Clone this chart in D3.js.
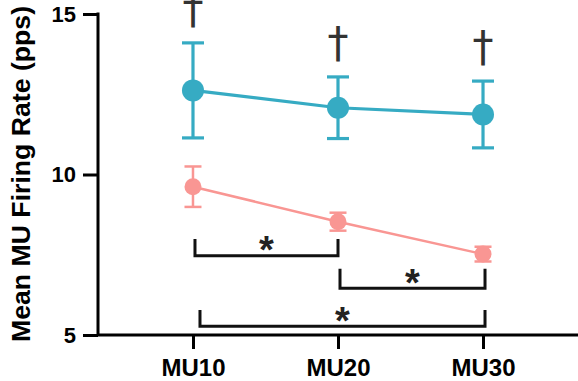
<!DOCTYPE html>
<html>
<head>
<meta charset="utf-8">
<script src="https://cdn.jsdelivr.net/npm/d3@7"></script>
<style>
  body { margin: 0; background: #fff; }
  svg { display: block; font-family: Arial, "Liberation Sans", sans-serif; }
</style>
</head>
<body>
<div id="chart"></div>
<script>
// Motor unit positions
const categories = ['MU10', 'MU20', 'MU30'];

// Group means and error (SD)
const blueMean = [12.62, 12.08, 11.87];
const blueErr = [1.48, 0.96, 1.04];
const pinkMean = [9.62, 8.53, 7.52];
const pinkErr = [0.63, 0.28, 0.23];

// Significance brackets: from, to, bar level, tick top (pps)
const brackets = [
    { from: 'MU10', to: 'MU20', level: 7.47, top: 7.99 },
    { from: 'MU20', to: 'MU30', level: 6.46, top: 7.06 },
    { from: 'MU10', to: 'MU30', level: 5.27, top: 5.78 }
];
const daggerAbove = [true, true, true];

const yTicks = [5, 10, 15];

const width = 578;
const height = 381;
const marginLeft = 98, plotTop = 14, plotBottom = 335;

const svg = d3.select('#chart')
    .append('svg')
    .attr('width', width)
    .attr('height', height);

const x = d3.scalePoint()
    .domain(categories)
    .range([marginLeft, width])
    .padding(0.655);

const y = d3.scaleLinear()
    .domain([5, 15])
    .range([plotBottom, plotTop]);

// Axes
const yAxis = svg.append('g')
    .attr('transform', `translate(${marginLeft},0)`)
    .call(d3.axisLeft(y).tickValues(yTicks).tickSize(15).tickPadding(7));

const xAxis = svg.append('g')
    .attr('transform', `translate(0,${plotBottom})`)
    .call(d3.axisBottom(x).tickSize(14).tickPadding(10));

[yAxis, xAxis].forEach(g => {
    g.select('.domain').attr('stroke', '#000').attr('stroke-width', 3);
    g.selectAll('.tick line').attr('stroke', '#000').attr('stroke-width', 3);
    g.selectAll('.tick text')
        .attr('fill', '#000')
        .attr('font-weight', 'bold');
});
yAxis.selectAll('.tick text').attr('font-size', 22);
xAxis.selectAll('.tick text').attr('font-size', 24);
// x axis runs from the y axis to the right edge
xAxis.select('.domain').attr('d', `M${marginLeft},0H${width}`);
yAxis.select('.domain').attr('d', `M0,${y(15) - 1.5}V${y(5)}`);

svg.append('text')
    .attr('transform', 'translate(30,174) rotate(-90)')
    .attr('text-anchor', 'middle')
    .attr('font-size', 25)
    .attr('font-weight', 'bold')
    .attr('textLength', 336)
    .attr('lengthAdjust', 'spacingAndGlyphs')
    .text('Mean MU Firing Rate (pps)');

// Series
function drawSeries(means, errs, color, r, lw, cap) {
    const g = svg.append('g');
    const pts = categories.map((c, i) => ({ c, m: means[i], e: errs[i] }));

    g.append('path')
        .datum(pts)
        .attr('fill', 'none')
        .attr('stroke', color)
        .attr('stroke-width', lw)
        .attr('d', d3.line().x(d => x(d.c)).y(d => y(d.m)));

    const eb = g.selectAll('.eb').data(pts).enter().append('g');
    eb.append('line')
        .attr('x1', d => x(d.c)).attr('x2', d => x(d.c))
        .attr('y1', d => y(d.m - d.e)).attr('y2', d => y(d.m + d.e))
        .attr('stroke', color).attr('stroke-width', lw);
    [1, -1].forEach(s => {
        eb.append('line')
            .attr('x1', d => x(d.c) - cap).attr('x2', d => x(d.c) + cap)
            .attr('y1', d => y(d.m + s * d.e)).attr('y2', d => y(d.m + s * d.e))
            .attr('stroke', color).attr('stroke-width', lw);
    });

    g.selectAll('circle').data(pts).enter().append('circle')
        .attr('cx', d => x(d.c))
        .attr('cy', d => y(d.m))
        .attr('r', r)
        .attr('fill', color);
}

drawSeries(pinkMean, pinkErr, '#f99693', 8.5, 2.5, 8.5);
drawSeries(blueMean, blueErr, '#36abc3', 11, 3.2, 11);

// Daggers above the blue error bars
svg.selectAll('.dagger')
    .data(categories.filter((c, i) => daggerAbove[i]))
    .enter().append('text')
    .attr('class', 'dagger')
    .attr('x', d => x(d))
    .attr('y', d => {
        const i = categories.indexOf(d);
        return y(blueMean[i] + blueErr[i]) - 20;
    })
    .attr('text-anchor', 'middle')
    .attr('font-family', '"DejaVu Sans", sans-serif')
    .attr('font-size', 42)
    .attr('fill', '#333')
    .text('†');

// Significance brackets
const ends = d => [
    x(d.from) + (d.from === 'MU10' && d.to === 'MU30' ? 7 : 2),
    x(d.to) + (d.to === 'MU30' ? 2 : 0)
];
const br = svg.selectAll('.bracket').data(brackets).enter().append('g');
br.append('path')
    .attr('fill', 'none')
    .attr('stroke', '#111')
    .attr('stroke-width', 3)
    .attr('d', d => {
        const [x1, x2] = ends(d);
        return `M${x1},${y(d.top)}V${y(d.level)}H${x2}V${y(d.top)}`;
    });
br.append('text')
    .attr('x', d => d3.mean(ends(d)))
    .attr('y', d => y(d.level) + 7.5)
    .attr('text-anchor', 'middle')
    .attr('font-size', 38)
    .attr('font-weight', 'bold')
    .attr('fill', '#222')
    .text('*');
</script>
</body>
</html>
